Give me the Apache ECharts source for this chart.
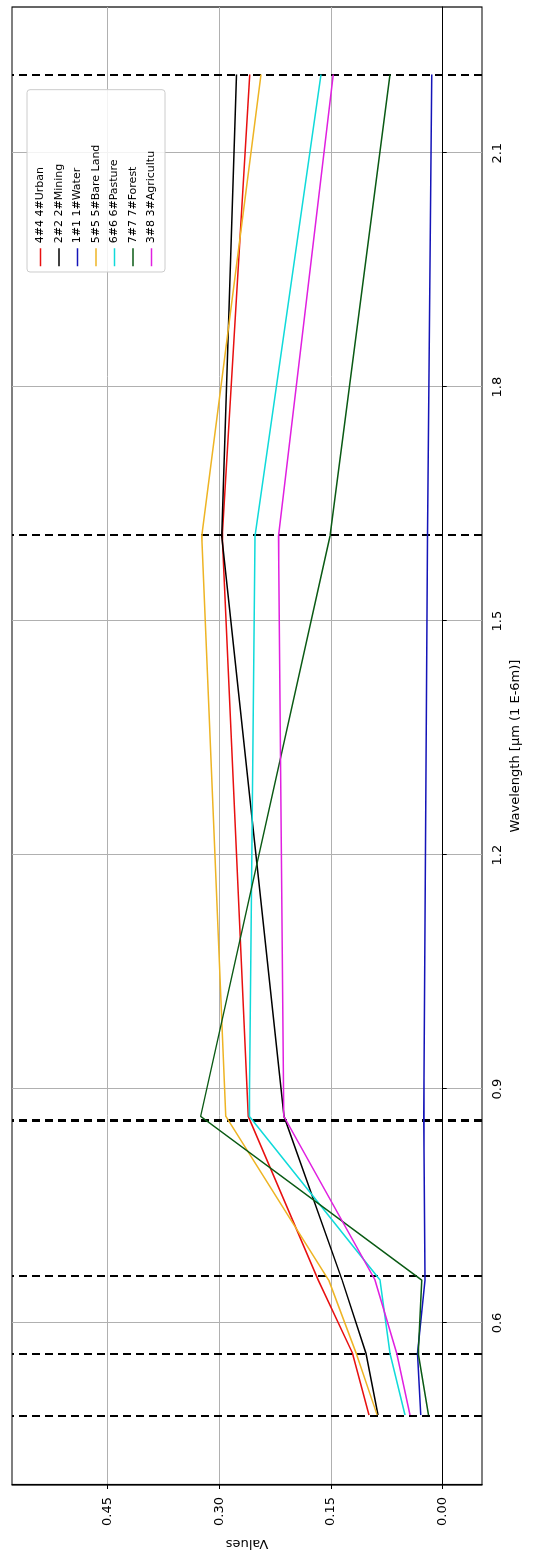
<!DOCTYPE html>
<html>
<head>
<meta charset="utf-8">
<script src="https://cdn.jsdelivr.net/npm/echarts@6/dist/echarts.min.js"></script>
<style>
html, body { margin: 0; padding: 0; width: 554px; height: 1558px; overflow: hidden; background: #fff; }
#chart { position: absolute; left: 0; top: 1558px; width: 1558px; height: 554px; transform-origin: 0 0; transform: rotate(-90deg); }
</style>
</head>
<body>
<div id="chart"></div>
<script>
// Wavelengths (µm) of the band centres (dashed lines) and sample points
const wavelengths = [0.482, 0.561, 0.655, 0.865, 1.609, 2.201];
const bandLines = [0.482, 0.561, 0.655, 0.865, 1.609, 2.201];

const seriesNames = ['4#4 4#Urban', '2#2 2#Mining', '1#1 1#Water', '5#5 5#Bare Land', '6#6 6#Pasture', '7#7 7#Forest', '3#8 3#Agricultu'];
const urban     = [0.099, 0.121, 0.167, 0.261, 0.296, 0.2588];
const mining    = [0.087, 0.103, 0.135, 0.213, 0.2966, 0.2767];
const water     = [0.0295, 0.034, 0.0237, 0.0253, 0.0206, 0.0148];
const bareLand  = [0.088, 0.116, 0.153, 0.291, 0.3234, 0.244];
const pasture   = [0.0505, 0.0707, 0.0841, 0.2595, 0.2519, 0.1633];
const forest    = [0.0192, 0.033, 0.0282, 0.3249, 0.1512, 0.0707];
const agricultu = [0.0438, 0.0617, 0.0908, 0.2132, 0.2205, 0.1468];
const seriesValues = [urban, mining, water, bareLand, pasture, forest, agricultu];
const seriesColors = ['#e81010', '#000000', '#1414b8', '#eeb424', '#10dada', '#0a5a14', '#e020e0'];

const xTicks = [0.6, 0.9, 1.2, 1.5, 1.8, 2.1];
const yTicks = [0, 0.15, 0.30, 0.45];

const font = 'DejaVu Sans';
const chart = echarts.init(document.getElementById('chart'), null, { width: 1558, height: 554, renderer: 'canvas' });

const series = seriesNames.map((name, i) => ({
  name: name,
  type: 'line',
  data: wavelengths.map((w, j) => [w, seriesValues[i][j]]),
  symbol: 'none',
  lineStyle: { color: seriesColors[i], width: 1.5 },
  itemStyle: { color: seriesColors[i] },
  emphasis: { disabled: true },
  z: 3 + i
}));

series.push({
  name: 'bands',
  type: 'line',
  data: [],
  silent: true,
  markLine: {
    silent: true,
    symbol: ['none', 'none'],
    label: { show: false },
    emphasis: { disabled: true },
    lineStyle: { color: '#000', type: [8, 5], width: 2 },
    data: bandLines.map(v => ({ xAxis: v, lineStyle: { width: v === 0.865 ? 3 : 2, color: '#000', type: [8, 5] } }))
  },
  z: 2
});

chart.setOption({
  animation: false,
  backgroundColor: '#fff',
  textStyle: { fontFamily: font },
  grid: { left: 62, right: 7, top: 12, bottom: 72, show: true, borderColor: '#000', borderWidth: 1.2, backgroundColor: 'transparent' },
  legend: {
    data: seriesNames,
    orient: 'vertical',
    left: 1286,
    top: 27,
    padding: [8, 55, 8, 5],
    itemWidth: 18,
    itemHeight: 11,
    itemGap: 7.5,
    itemStyle: { opacity: 0 },
    lineStyle: { width: 1.5 },
    backgroundColor: 'rgba(255,255,255,0.85)',
    borderColor: '#cccccc',
    borderWidth: 1,
    borderRadius: 3,
    textStyle: { fontFamily: font, fontSize: 11, color: '#000' }
  },
  xAxis: {
    type: 'value',
    min: 0.3923,
    max: 2.2875,
    name: 'Wavelength [µm (1 E-6m)]',
    nameLocation: 'middle',
    nameGap: 26,
    nameTextStyle: { fontFamily: font, fontSize: 13, color: '#000' },
    axisLine: { show: true, lineStyle: { color: '#000', width: 1.2 } },
    axisTick: { show: true, length: 4, lineStyle: { color: '#000' }, customValues: xTicks },
    axisLabel: { customValues: xTicks, margin: 9, fontFamily: font, fontSize: 13, color: '#000', formatter: v => v.toFixed(1) },
    splitLine: { show: true, lineStyle: { color: '#b0b0b0', width: 1 } }
  },
  yAxis: {
    type: 'value',
    min: -0.0527,
    max: 0.578,
    name: 'Values',
    nameLocation: 'middle',
    nameRotate: 90,
    nameGap: 52,
    nameTextStyle: { fontFamily: font, fontSize: 13, color: '#000' },
    axisLine: { show: true, lineStyle: { color: '#000', width: 1.2 } },
    axisTick: { show: true, length: 4, lineStyle: { color: '#000' }, customValues: yTicks },
    axisLabel: { customValues: yTicks, margin: 12, fontFamily: font, fontSize: 13, color: '#000', formatter: v => v.toFixed(2) },
    splitLine: { show: true, lineStyle: { color: '#b0b0b0', width: 1 } }
  },
  series: series
});
</script>
</body>
</html>
